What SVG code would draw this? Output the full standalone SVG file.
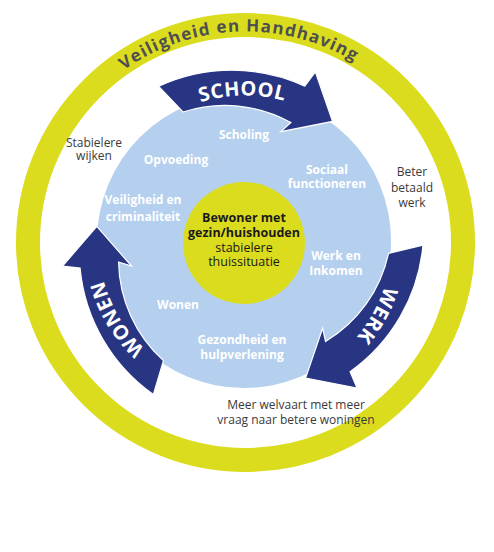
<svg xmlns="http://www.w3.org/2000/svg" xmlns:xlink="http://www.w3.org/1999/xlink" width="494" height="552" viewBox="0 0 494 552">
  <style>
    text { font-family: "Open Sans", "Liberation Sans", sans-serif; }
    .lbl { font-size: 12px; font-weight: 700; fill: #ffffff; text-anchor: middle; }
    .note { font-size: 12px; font-weight: 400; fill: #3a3a3a; text-anchor: middle; }
    .core { font-size: 12.5px; fill: #1a1a1a; text-anchor: middle; }
    .arrowtxt { font-size: 20px; font-weight: 700; fill: #ffffff; letter-spacing: 0.5px; }
    .title { font-size: 17px; font-weight: 700; fill: #4f4f4f; letter-spacing: 1.2px; }
    .arrow { fill: #283583; stroke: #ffffff; stroke-width: 1.2; stroke-linejoin: miter; }
  </style>
  <defs>
    <path id="arrowShape" d="M -86.30 -155.68 A 175 175 0 0 1 59.85 -155.91 L 70.41 -170.0 L 87.58 -120.54 L 35.85 -110.32 L 45.87 -119.50 A 136 136 0 0 0 -61.99 -129.97 Z"/>
    <path id="labelArc" d="M -128.13 -71.02 A 146.5 146.5 0 0 1 125.58 -75.45"/>
    <path id="titleArc" d="M 34.5 242.5 A 211 211 0 0 1 455.99 227.78"/>
  </defs>
  <rect width="494" height="552" fill="#ffffff"/>

  <g id="ring">
    <circle cx="245.5" cy="242.5" r="217.5" fill="none" stroke="#dcdc1f" stroke-width="24"/>
    <text class="title" text-anchor="middle"><textPath href="#titleArc" xlink:href="#titleArc" startOffset="50%">Veiligheid en Handhaving</textPath></text>
  </g>

  <g id="domains">
    <circle cx="244" cy="241" r="147" fill="#b5d0ee"/>
    <text class="lbl" x="244" y="139">Scholing</text>
    <text class="lbl" x="176" y="164">Opvoeding</text>
    <text class="lbl" x="327" y="174">Sociaal</text>
    <text class="lbl" x="327" y="188">functioneren</text>
    <text class="lbl" x="143" y="204">Veiligheid en</text>
    <text class="lbl" x="143" y="221">criminaliteit</text>
    <text class="lbl" x="336" y="260">Werk en</text>
    <text class="lbl" x="336" y="275">Inkomen</text>
    <text class="lbl" x="178" y="309">Wonen</text>
    <text class="lbl" x="242" y="344">Gezondheid en</text>
    <text class="lbl" x="242" y="359">hulpverlening</text>
  </g>

  <g id="core">
    <circle cx="244" cy="243" r="61" fill="#dcdc1f"/>
    <text class="core" x="244" y="222" font-weight="700">Bewoner met</text>
    <text class="core" x="244" y="237" font-weight="700">gezin/huishouden</text>
    <text class="core" x="244" y="252" font-size="12px" fill="#333333">stabielere</text>
    <text class="core" x="244" y="266" font-size="12px" fill="#333333">thuissituatie</text>
  </g>

  <g id="connectors">
    <g id="arrow-school" transform="translate(245 242)">
      <use href="#arrowShape" xlink:href="#arrowShape" class="arrow"/>
      <text class="arrowtxt" text-anchor="middle"><textPath href="#labelArc" xlink:href="#labelArc" startOffset="50%">SCHOOL</textPath></text>
    </g>
    <g id="arrow-werk" transform="translate(245 242) rotate(120)">
      <use href="#arrowShape" xlink:href="#arrowShape" class="arrow"/>
      <text class="arrowtxt" text-anchor="middle"><textPath href="#labelArc" xlink:href="#labelArc" startOffset="50%">WERK</textPath></text>
    </g>
    <g id="arrow-wonen" transform="translate(245 242) rotate(240)">
      <use href="#arrowShape" xlink:href="#arrowShape" class="arrow"/>
      <text class="arrowtxt" text-anchor="middle"><textPath href="#labelArc" xlink:href="#labelArc" startOffset="50%">WONEN</textPath></text>
    </g>
  </g>

  <g id="outcomes">
    <text class="note" x="94" y="147">Stabielere</text>
    <text class="note" x="94" y="160">wijken</text>
    <text class="note" x="412" y="176">Beter</text>
    <text class="note" x="412" y="192">betaald</text>
    <text class="note" x="412" y="207">werk</text>
    <text class="note" x="296" y="409">Meer welvaart met meer</text>
    <text class="note" x="296" y="424">vraag naar betere woningen</text>
  </g>
</svg>
